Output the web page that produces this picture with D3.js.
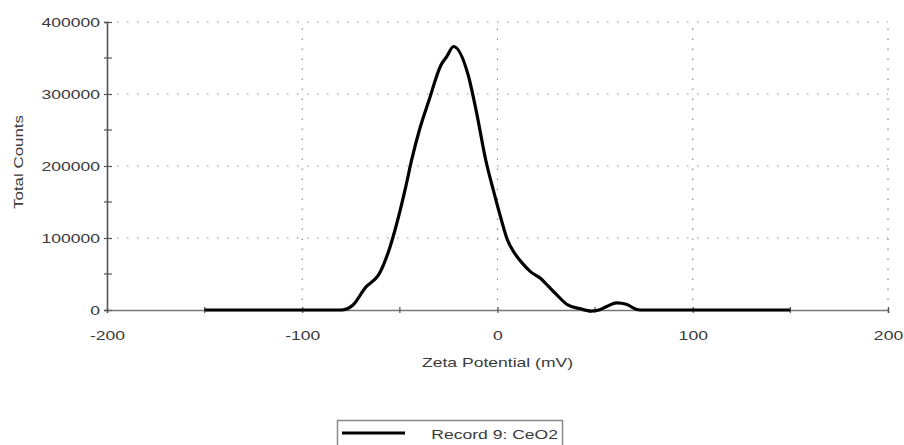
<!DOCTYPE html>
<html>
<head>
<meta charset="utf-8">
<script src="https://cdn.jsdelivr.net/npm/d3@7"></script>
<style>
  html, body { margin: 0; padding: 0; background: #fff; }
  svg { display: block; }
  text { font-family: Arial, "Liberation Sans", sans-serif; fill: #3a3a3a; }
</style>
</head>
<body>
<svg id="chart" width="904" height="445"></svg>
<script>
// ---- data ----
const zeta = [-150, -80, -74, -68, -60, -55, -52, -47, -44, -40, -35, -29, -26, -22.5, -15, -11, -6, -2, 2, 5, 9, 13, 17, 22, 26, 30, 36, 42, 48, 52, 56, 61, 66, 71, 73, 150];
const counts = [0, 0, 7000, 30000, 53000, 88000, 116000, 171000, 208000, 250000, 292000, 340000, 352000, 366000, 326000, 278000, 208000, 165000, 125000, 98000, 78000, 64000, 53000, 44000, 33000, 22000, 7000, 2000, -1500, 0, 5000, 10000, 8000, 1000, 0, 0];
const xTicks = [-200, -100, 0, 100, 200];
const xMinor = [-150, -50, 50, 150];
const yTicks = [0, 100000, 200000, 300000, 400000];
const yMinor = [50000, 150000, 250000, 350000];
const xTitle = "Zeta Potential (mV)";
const yTitle = "Total Counts";
const legendLabel = "Record 9: CeO2";

const SX = 1.35; // horizontal stretch of the reference's font
const svg = d3.select("#chart");
const x = d3.scaleLinear().domain([-200, 200]).range([107, 888]);
const y = d3.scaleLinear().domain([0, 400000]).range([310, 22]);
const fmt = d => String(d);

// gridlines
const grid = svg.append("g").attr("stroke", "#8a8a8a").attr("stroke-width", 1.2).attr("stroke-dasharray", "1.5,8.5");
grid.selectAll(".gx").data(xTicks.filter(d => d !== -200)).join("line")
  .attr("x1", d => x(d)).attr("x2", d => x(d)).attr("y1", y(0)).attr("y2", y(400000));
grid.selectAll(".gy").data(yTicks.filter(d => d !== 0)).join("line")
  .attr("y1", d => y(d)).attr("y2", d => y(d)).attr("x1", x(-200)).attr("x2", x(200));

// x axis
const xAxis = svg.append("g").attr("transform", `translate(0,${y(0)})`)
  .call(d3.axisBottom(x).tickValues(xTicks).tickSize(3).tickFormat(fmt));
xAxis.select(".domain").attr("stroke", "#777").attr("stroke-width", 1.6);
xAxis.selectAll(".tick line").attr("stroke", "#555").attr("y1", -3).attr("y2", 3).attr("stroke-width", 1.2);
xAxis.selectAll(".tick text").attr("font-size", 13).attr("y", 0).attr("dy", 0)
  .attr("transform", `translate(0,30) scale(${SX},1)`).style("fill", "#3a3a3a");
xAxis.append("g").selectAll("line").data(xMinor).join("line")
  .attr("x1", d => x(d)).attr("x2", d => x(d)).attr("y1", -3).attr("y2", 3)
  .attr("stroke", "#555").attr("stroke-width", 1.2);

// y axis
const yAxis = svg.append("g").attr("transform", `translate(${x(-200)},0)`)
  .call(d3.axisLeft(y).tickValues(yTicks).tickSize(3).tickFormat(fmt));
yAxis.select(".domain").attr("stroke", "#555").attr("stroke-width", 1.6);
yAxis.selectAll(".tick line").attr("stroke", "#555").attr("x1", -3).attr("x2", 5).attr("stroke-width", 1.2);
yAxis.selectAll(".tick text").attr("font-size", 13).attr("x", 0).attr("dy", "0.36em")
  .attr("transform", `translate(-7,0) scale(${SX},1)`).style("fill", "#3a3a3a");
yAxis.append("g").selectAll("line").data(yMinor).join("line")
  .attr("y1", d => y(d)).attr("y2", d => y(d)).attr("x1", -3).attr("x2", 5)
  .attr("stroke", "#555").attr("stroke-width", 1.2);

// data line
const pts = zeta.map((z, i) => [z, counts[i]]);
svg.append("path").datum(pts)
  .attr("fill", "none").attr("stroke", "#000").attr("stroke-width", 3.2)
  .attr("stroke-linejoin", "round")
  .attr("d", d3.line().x(d => x(d[0])).y(d => y(d[1])).curve(d3.curveMonotoneX));

// titles
svg.append("text").attr("text-anchor", "middle").attr("font-size", 13)
  .attr("transform", `translate(${(x(-200) + x(200)) / 2},367) scale(${SX},1)`).text(xTitle);
svg.append("text").attr("text-anchor", "middle").attr("font-size", 13)
  .attr("transform", `translate(23,162) rotate(-90) scale(1.3,1)`).text(yTitle);

// legend
const lg = svg.append("g");
lg.append("rect").attr("x", 337.5).attr("y", 420.5).attr("width", 225).attr("height", 40)
  .attr("fill", "#fff").attr("stroke", "#888").attr("stroke-width", 1.5);
lg.append("line").attr("x1", 342).attr("x2", 405).attr("y1", 433).attr("y2", 433)
  .attr("stroke", "#000").attr("stroke-width", 3.2);
lg.append("text").attr("font-size", 13).attr("text-anchor", "end")
  .attr("transform", `translate(558,439) scale(${SX},1)`).text(legendLabel);
</script>
</body>
</html>
